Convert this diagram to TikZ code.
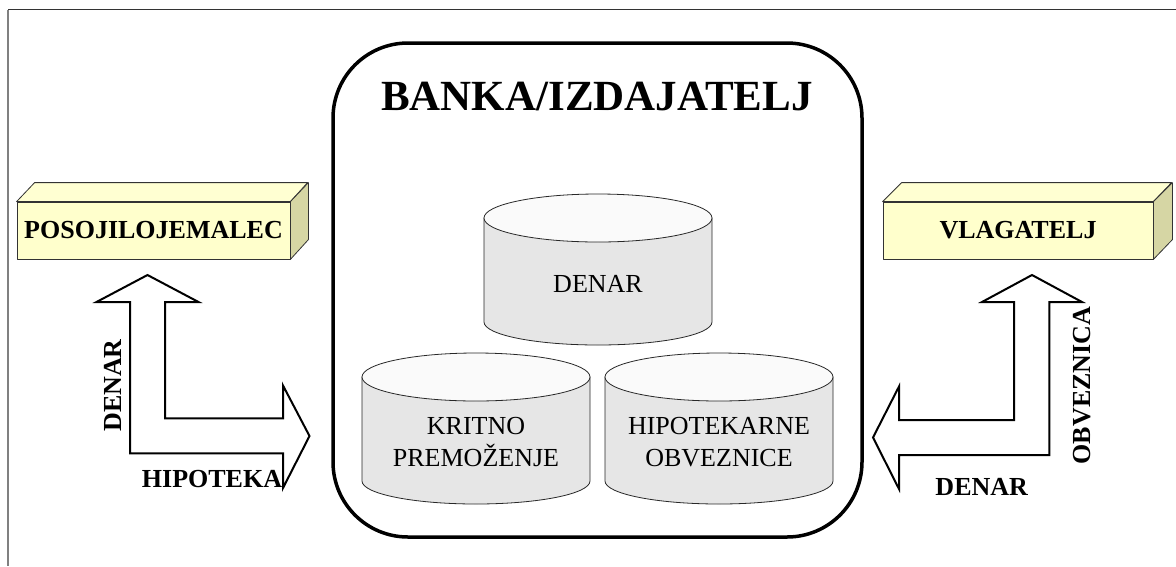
\documentclass[tikz,border=0pt]{standalone}
\usepackage{fontspec}
\setmainfont{Liberation Serif}
\definecolor{boxfront}{RGB}{255,255,204}
\definecolor{boxtop}{RGB}{255,255,210}
\definecolor{boxside}{RGB}{214,214,164}
\definecolor{cylside}{RGB}{230,230,230}
\definecolor{cyltop}{RGB}{250,250,250}
\definecolor{cyledge}{RGB}{40,40,40}
\tikzset{
  boxface/.style={draw=black!80, line width=0.8pt, line join=round},
  frontbox/.style={boxface, fill=boxfront, inner sep=1pt, font=\fontsize{26}{30}\selectfont\bfseries},
  cylbody/.style={draw=cyledge, line width=0.8pt, fill=cylside},
  cyllid/.style={draw=cyledge, line width=0.8pt, fill=cyltop},
  cyltext/.style={align=center, inner sep=0pt, font=\fontsize{26}{32.4}\selectfont},
  blockarrow/.style={draw=black, line width=2pt, fill=white, line join=miter},
  arrowlabel/.style={inner sep=0pt, font=\fontsize{26}{30}\selectfont\bfseries},
  bankframe/.style={draw=black, line width=3.5pt, rounded corners=75pt, fill=white}
}
\begin{document}
\begin{tikzpicture}[x=1pt,y=-1pt]
\useasboundingbox (0,0) rectangle (1176,566);
% page frame
\draw[black!80, line width=1.3pt] (8,9.6) -- (1176,9.6);
\draw[black!50, line width=1.6pt] (8,9.6) -- (8,566);
% bank frame
\draw[bankframe] (333,43) rectangle (862,537);
\node[anchor=base, inner sep=0pt, font=\fontsize{43}{48}\selectfont\bfseries] (bank) at (597,110.7) {BANKA/IZDAJATELJ};
% cylinders
\foreach \cx/\cy in {598/218, 476/377, 719/377}{
  \path[cylbody] (\cx-114,\cy) -- (\cx-114,\cy+104) arc[start angle=180, end angle=360, x radius=114pt, y radius=23pt] -- (\cx+114,\cy) -- cycle;
  \path[cyllid] (\cx,\cy) ellipse[x radius=114pt, y radius=24pt];
}
\node[anchor=base, inner sep=0pt, font=\fontsize{26}{30}\selectfont] (money) at (598,292.7) {DENAR};
\node[cyltext, anchor=base] (assets) at (476,466.7) {KRITNO\\PREMOŽENJE};
\node[cyltext, anchor=base] (bonds) at (719,466.7) {HIPOTEKARNE\\OBVEZNICE};
% left 3D box
\node[frontbox, minimum width=273pt, minimum height=57pt] (borrower) at (153.5,230.5) {POSOJILOJEMALEC};
\path[boxface, fill=boxtop] (borrower.north west) -- ++(18,-19) -- ++(273,0) -- (borrower.north east) -- cycle;
\path[boxface, fill=boxside] (borrower.north east) -- ++(18,-19) -- ++(0,57) -- (borrower.south east) -- cycle;
% right 3D box
\node[frontbox, minimum width=270pt, minimum height=57pt] (investor) at (1018,230.5) {VLAGATELJ};
\path[boxface, fill=boxtop] (investor.north west) -- ++(19,-19) -- ++(270,0) -- (investor.north east) -- cycle;
\path[boxface, fill=boxside] (investor.north east) -- ++(19,-19) -- ++(0,57) -- (investor.south east) -- cycle;
% left L arrow
\path[blockarrow] (147.5,275) -- (198.5,302) -- (165,302) -- (165,418.3) -- (283,418.3) -- (283,385.5)
  -- (309.5,436) -- (283,488) -- (283,453.3) -- (130,453.3) -- (130,302) -- (96.5,302) -- cycle;
% right L arrow
\path[blockarrow] (1032,275) -- (1082,302) -- (1049.3,302) -- (1049.3,455) -- (899,455) -- (899,489)
  -- (873,437.5) -- (899,386.5) -- (899,420) -- (1014,420) -- (1014,302) -- (982,302) -- cycle;
% labels
\node[arrowlabel, rotate=90, anchor=base] (ldenar) at (121.7,385.5) {DENAR};
\node[arrowlabel, anchor=base] (lhipo) at (212,487) {HIPOTEKA};
\node[arrowlabel, anchor=base] (rdenar) at (981.7,495) {DENAR};
\node[arrowlabel, rotate=90, anchor=base] (robv) at (1090.7,385.5) {OBVEZNICA};
\end{tikzpicture}
\end{document}
